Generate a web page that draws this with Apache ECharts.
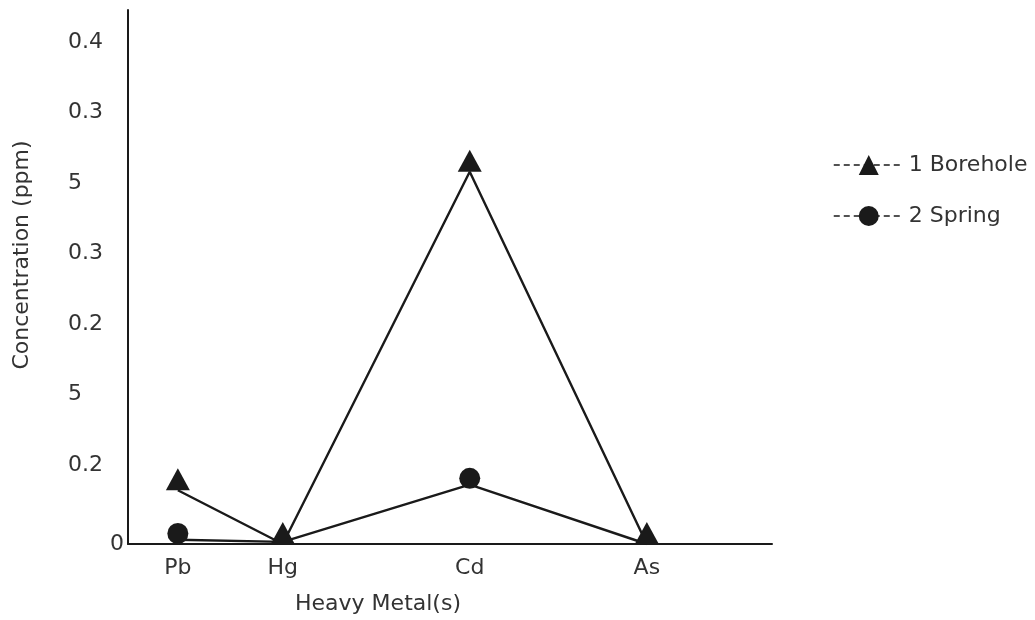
<!DOCTYPE html>
<html>
<head>
<meta charset="utf-8">
<script src="https://cdn.jsdelivr.net/npm/echarts@6/dist/echarts.min.js"></script>
<style>
  html, body { margin: 0; padding: 0; background: #ffffff; }
  #chart { width: 1035px; height: 620px; }
</style>
</head>
<body>
<div id="chart"></div>
<script>
// ---- data ----
const categories = ['Pb', 'Hg', 'Cd', 'As'];
const categoryPos = [0.96, 2.98, 6.58, 9.99];          // x-scale value of each category
const seriesNames = ['1 Borehole', '2 Spring'];
const boreholeValues = [0.77, 0.0, 5.33, 0.0];          // in y-scale units
const springValues = [0.06, 0.03, 0.85, 0.0];
const springMarkerShown = [true, false, true, false];   // spring points hidden under triangles
const yZeroLabel = '0';
const yTickLabels = ['0.2', '5', '0.2', '0.3', '5', '0.3', '0.4'];
const xAxisTitle = 'Heavy Metal(s)';
const yAxisTitle = 'Concentration (ppm)';

const FONT = 'DejaVu Sans';
const INK = '#1a1a1a';
const TXT = '#333333';

const chart = echarts.init(document.getElementById('chart'), null, { renderer: 'canvas' });

chart.setOption({
  backgroundColor: '#ffffff',
  animation: false,
  grid: [
    { left: 128, right: 263, top: 10, bottom: 71 },
    { left: 128, right: 263, top: 42, bottom: 155 }
  ],
  xAxis: [
    {
      type: 'value', gridIndex: 0, min: 0, max: 12.4,
      splitLine: { show: false },
      axisLine: { show: true, onZero: false, lineStyle: { color: INK, width: 2 } },
      axisTick: { show: false },
      axisLabel: {
        customValues: categoryPos,
        formatter: function (v) {
          const i = categoryPos.indexOf(v);
          return i >= 0 ? categories[i] : '';
        },
        color: TXT, fontFamily: FONT, fontSize: 22, margin: 13
      },
      name: xAxisTitle, nameLocation: 'middle', nameGap: 49,
      nameTextStyle: { color: TXT, fontFamily: FONT, fontSize: 22, padding: [0, 144, 0, 0] }
    },
    { type: 'value', gridIndex: 1, show: false, min: 0, max: 1 }
  ],
  yAxis: [
    {
      type: 'value', gridIndex: 0, min: 0, max: 7.645, interval: 7.645,
      splitLine: { show: false },
      axisLine: { show: true, lineStyle: { color: INK, width: 2 } },
      axisTick: { show: false },
      axisLabel: {
        formatter: function (v) { return v === 0 ? yZeroLabel : ''; },
        color: TXT, fontFamily: FONT, fontSize: 22, margin: 4
      },
      name: yAxisTitle, nameLocation: 'middle', nameGap: 95, nameRotate: 90,
      nameTextStyle: { color: TXT, fontFamily: FONT, fontSize: 22, padding: [0, 0, 0, 44] }
    },
    {
      type: 'value', gridIndex: 1, min: 0, max: 6, interval: 1,
      splitLine: { show: false },
      axisLine: { show: false },
      axisTick: { show: false },
      axisLabel: {
        formatter: function (v) { return yTickLabels[Math.round(v)] || ''; },
        align: 'left', margin: 60,
        color: TXT, fontFamily: FONT, fontSize: 22
      }
    }
  ],
  legend: {
    orient: 'vertical', left: 828, top: 149,
    itemWidth: 70, itemHeight: 25, itemGap: 29,
    textStyle: { color: TXT, fontFamily: FONT, fontSize: 22 },
    lineStyle: { type: [6, 4], width: 1.5, color: INK },
    data: seriesNames
  },
  series: [
    {
      name: seriesNames[1], type: 'line',
      xAxisIndex: 0, yAxisIndex: 0,
      data: springValues.map((v, i) => ({
        value: [categoryPos[i], v],
        symbolSize: springMarkerShown[i] ? 21 : 0
      })),
      symbol: 'circle', symbolSize: 21, symbolOffset: [0, '-30%'],
      lineStyle: { color: INK, width: 2.4 },
      itemStyle: { color: INK },
      z: 2
    },
    {
      name: seriesNames[0], type: 'line',
      xAxisIndex: 0, yAxisIndex: 0,
      data: boreholeValues.map((v, i) => [categoryPos[i], v]),
      symbol: 'triangle', symbolSize: [24, 22], symbolOffset: [0, '-50%'],
      lineStyle: { color: INK, width: 2.4 },
      itemStyle: { color: INK },
      z: 3
    }
  ]
});
</script>
</body>
</html>
